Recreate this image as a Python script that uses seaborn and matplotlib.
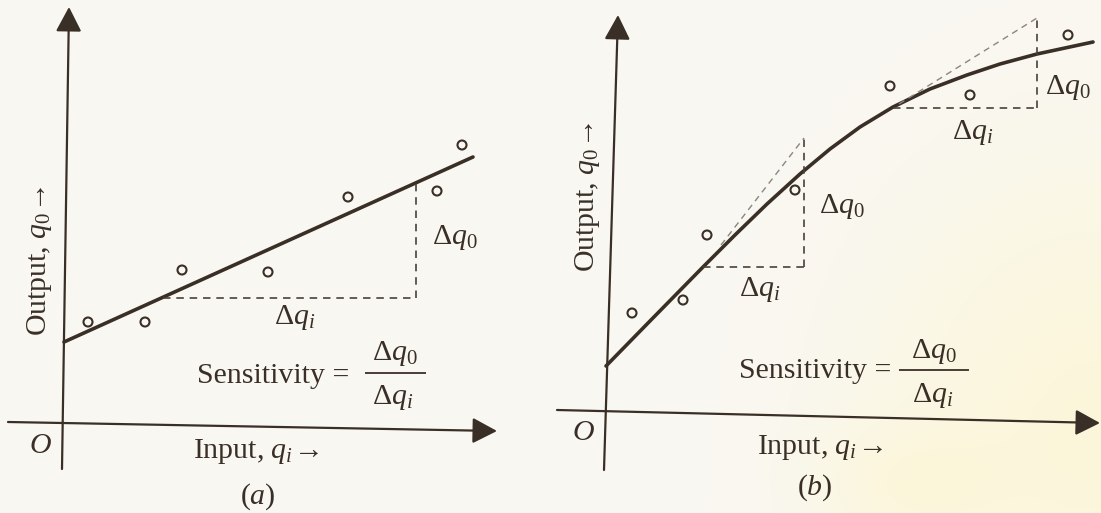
import matplotlib
matplotlib.use("Agg")
import numpy as np
import matplotlib.pyplot as plt
import seaborn as sns

# ---------------------------------------------------------------------------
# (a) linear instrument: calibration readings and the fitted straight line
# ---------------------------------------------------------------------------
a_readings_x = [2.5, 8.2, 11.9, 20.5, 28.5, 37.4, 39.9]
a_readings_y = [10.1, 10.1, 15.3, 15.1, 22.6, 23.2, 27.8]
a_fit_x = [0.1, 41.0]
a_fit_y = [8.1, 26.6]
# slope triangle on the straight line
a_tri_x = [10.0, 35.3]
a_tri_y = [12.5, 24.1]

# ---------------------------------------------------------------------------
# (b) non-linear instrument: calibration readings and the fitted curve
# ---------------------------------------------------------------------------
b_readings_x = [2.6, 7.7, 10.1, 18.9, 28.4, 36.4, 46.2]
b_readings_y = [9.8, 11.1, 17.6, 22.1, 32.5, 31.6, 37.6]
b_curve_x = [0.0, 4.4, 9.7, 12.9, 16.1, 19.4, 22.4, 25.4, 28.7, 32.4,
             36.1, 39.4, 43.1, 45.9, 48.7]
b_curve_y = [4.5, 9.0, 14.4, 17.6, 20.7, 23.7, 26.2, 28.4, 30.4, 32.2,
             33.6, 34.7, 35.7, 36.3, 36.9]
# local slope triangles: lower and upper operating point
b_tri_lo_x = [9.7, 19.8]
b_tri_lo_y = [14.4, 27.3]
b_tan_lo_x = [11.5, 19.8]
b_tan_lo_y = [16.6, 27.3]
b_tri_hi_x = [28.7, 43.1]
b_tri_hi_y = [30.3, 39.3]
b_tan_hi_x = [29.3, 43.1]
b_tan_hi_y = [30.7, 39.3]

INK = "#3a2f26"
DASH_INK = "#4a4038"
TAN_INK = "#8d857b"
PAPER = "#f9f8f3"

sns.set_theme(style="white")
plt.rcParams["font.family"] = ["Liberation Serif", "DejaVu Serif"]
plt.rcParams["mathtext.fontset"] = "custom"
plt.rcParams["mathtext.rm"] = "Liberation Serif"
plt.rcParams["mathtext.it"] = "Liberation Serif:italic"
plt.rcParams["mathtext.bf"] = "Liberation Serif:bold"

FS = 21.5

fig = plt.figure(figsize=(11.01, 5.13), dpi=100, facecolor=PAPER)

# faint warm tint of the printed page towards the lower right
bg = fig.add_axes([0, 0, 1, 1], zorder=-5)
gx, gy = np.meshgrid(np.linspace(0, 1, 220), np.linspace(0, 1, 110))
glow = np.exp(-(((gx - 1.0) / 0.22) ** 2 + ((gy - 0.15) / 0.55) ** 2))
glow += 0.5 * np.exp(-(((gx - 0.82) / 0.08) ** 2 + ((gy - 0.05) / 0.12) ** 2))
glow = np.clip(glow, 0, 1) * 0.85
paper_rgb = np.array([0xf9, 0xf8, 0xf3]) / 255
warm_rgb = np.array([0xfc, 0xf6, 0xd6]) / 255
img = paper_rgb + glow[..., None] * (warm_rgb - paper_rgb)
bg.imshow(img, origin="lower", extent=(0, 1, 0, 1), aspect="auto",
          interpolation="bilinear")
bg.set_axis_off()

ax_a = fig.add_axes([0.0, 0.0, 550 / 1101, 1.0])
ax_b = fig.add_axes([550 / 1101, 0.0, 551 / 1101, 1.0])


def axis_arrow(ax, start, tip):
    ax.annotate(
        "", xy=tip, xytext=start, annotation_clip=False,
        arrowprops=dict(arrowstyle="-|>,head_length=0.42,head_width=0.22",
                        mutation_scale=36, lw=1.6, color=INK,
                        shrinkA=0, shrinkB=0),
    )


def dashed(ax, xs, ys, color=DASH_INK, lw=1.2):
    ax.plot(xs, ys, color=color, lw=lw, ls=(0, (4.5, 3.5)),
            dash_capstyle="butt")


def readings(ax, xs, ys):
    sns.scatterplot(x=xs, y=ys, ax=ax, marker="o", s=42,
                    facecolors="none", edgecolors=INK, linewidth=1.5,
                    zorder=4, legend=False)


def sensitivity(ax, x_text, y_base, bar_x, bar_y, num_xy, den_xy):
    ax.text(x_text, y_base, "Sensitivity =", fontsize=FS, color=INK,
            ha="left", va="baseline")
    ax.plot(bar_x, [bar_y, bar_y], color=INK, lw=1.3,
            solid_capstyle="butt")
    ax.text(*num_xy, r"$\Delta q_0$", fontsize=FS, color=INK,
            ha="center", va="center")
    ax.text(*den_xy, r"$\Delta q_i$", fontsize=FS, color=INK,
            ha="center", va="center")


# ----------------------------- panel (a) -----------------------------------
ax = ax_a
axis_arrow(ax, (-0.1, -4.6), (0.6, 41.6))
axis_arrow(ax, (-5.5, 0.1), (43.4, -0.8))
sns.lineplot(x=a_fit_x, y=a_fit_y, ax=ax, color=INK, lw=2.6, sort=False,
             estimator=None, legend=False)
readings(ax, a_readings_x, a_readings_y)
dashed(ax, [a_tri_x[0], a_tri_x[1]], [a_tri_y[0], a_tri_y[0]])
dashed(ax, [a_tri_x[1], a_tri_x[1]], [a_tri_y[0], a_tri_y[1]])

ax.text(23.2, 10.5, r"$\Delta q_i$", fontsize=FS, color=INK,
        ha="center", va="center")
ax.text(39.2, 18.5, r"$\Delta q_0$", fontsize=FS, color=INK,
        ha="center", va="center")
sensitivity(ax, 13.4, 4.0, [30.2, 36.3], 5.0, (33.2, 6.9), (33.0, 2.5))
ax.text(13.0, -2.8, r"Input, $q_i\!\rightarrow$", fontsize=FS, color=INK,
        ha="left", va="center")
ax.text(-2.3, -2.3, "$O$", fontsize=FS, color=INK, ha="center", va="center")
ax.text(19.5, -7.4, "$(a)$", fontsize=FS, color=INK, ha="center",
        va="center")
ax.text(-2.3, 16.2, r"Output, $q_0\!\rightarrow$", fontsize=FS, color=INK,
        ha="center", va="center", rotation=90)
ax.set_xlim(-6.3, 48.7)
ax.set_ylim(-9.0, 42.3)

# ----------------------------- panel (b) -----------------------------------
ax = ax_b
axis_arrow(ax, (-0.2, -5.9), (1.2, 39.6))
axis_arrow(ax, (-4.9, 0.1), (49.4, -1.2))
sns.lineplot(x=b_curve_x, y=b_curve_y, ax=ax, color=INK, lw=2.6, sort=False,
             estimator=None, legend=False)
for ln in ax.get_lines():
    ln.set_solid_joinstyle("round")
readings(ax, b_readings_x, b_readings_y)

for tri_x, tri_y, tan_x, tan_y in [
    (b_tri_lo_x, b_tri_lo_y, b_tan_lo_x, b_tan_lo_y),
    (b_tri_hi_x, b_tri_hi_y, b_tan_hi_x, b_tan_hi_y),
]:
    dashed(ax, [tri_x[0], tri_x[1]], [tri_y[0], tri_y[0]])
    dashed(ax, [tri_x[1], tri_x[1]], [tri_y[0], tri_y[1]])
    dashed(ax, tan_x, tan_y, color=TAN_INK, lw=1.0)

ax.text(15.4, 12.2, r"$\Delta q_i$", fontsize=FS, color=INK,
        ha="center", va="center")
ax.text(23.6, 20.4, r"$\Delta q_0$", fontsize=FS, color=INK,
        ha="center", va="center")
ax.text(36.7, 27.8, r"$\Delta q_i$", fontsize=FS, color=INK,
        ha="center", va="center")
ax.text(46.2, 32.3, r"$\Delta q_0$", fontsize=FS, color=INK,
        ha="center", va="center")
sensitivity(ax, 13.3, 3.3, [29.3, 36.3], 4.1, (32.8, 6.0), (32.7, 1.6))
ax.text(15.1, -3.6, r"Input, $q_i\!\rightarrow$", fontsize=FS, color=INK,
        ha="left", va="center")
ax.text(-2.3, -2.2, "$O$", fontsize=FS, color=INK, ha="center", va="center")
ax.text(20.9, -7.7, "$(b)$", fontsize=FS, color=INK, ha="center",
        va="center")
ax.text(-1.9, 21.4, r"Output, $q_0\!\rightarrow$", fontsize=FS, color=INK,
        ha="center", va="center", rotation=90)
ax.set_xlim(-5.6, 49.5)
ax.set_ylim(-10.2, 41.1)

for ax in (ax_a, ax_b):
    ax.set_axis_off()
    ax.patch.set_alpha(0)

fig.savefig("out.png", dpi=100, facecolor=PAPER)
